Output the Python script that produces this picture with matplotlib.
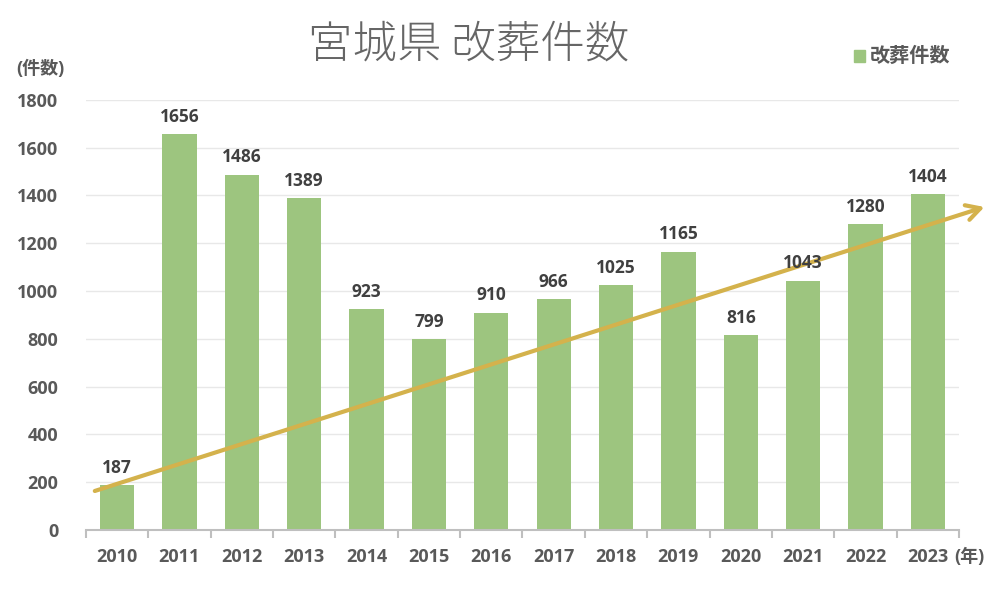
import numpy as np
import matplotlib.pyplot as plt

plt.rcParams['font.family'] = ['Open Sans', 'Noto Sans CJK JP', 'DejaVu Sans']

years = ['2010', '2011', '2012', '2013', '2014', '2015', '2016',
         '2017', '2018', '2019', '2020', '2021', '2022', '2023']
counts = [187, 1656, 1486, 1389, 923, 799, 910, 966, 1025, 1165, 816, 1043, 1280, 1404]
yticks = [0, 200, 400, 600, 800, 1000, 1200, 1400, 1600, 1800]

# trend arrow (start / end)
arrow_start = (-0.4, 160)
arrow_end = (13.95, 1355)

bar_color = '#9DC57F'
text_color = '#595959'
arrow_color = '#D4B24C'

fig = plt.figure(figsize=(9.99, 6.01), dpi=100)
ax = fig.add_axes([0.086, 0.118, 0.874, 0.716])

x = np.arange(len(years))
ax.bar(x, counts, width=0.55, color=bar_color, zorder=2)

for xi, v in zip(x, counts):
    ax.text(xi, v + 35, str(v), ha='center', va='bottom', fontsize=12.5,
            fontweight='bold', color='#404040', zorder=4)

ax.annotate('', xy=arrow_end, xytext=arrow_start,
            arrowprops=dict(arrowstyle='->,head_length=1.0,head_width=0.55',
                            color=arrow_color, lw=3),
            annotation_clip=False, zorder=3)

ax.set_xlim(-0.5, len(years) - 0.5)
ax.set_ylim(0, 1800)
ax.set_yticks(yticks)
ax.set_yticklabels([str(t) for t in yticks], fontsize=13, fontweight='bold', color=text_color)
ax.set_xticks(x)
ax.set_xticklabels(years, fontsize=13, fontweight='bold', color=text_color)
ax.tick_params(axis='x', length=0, pad=13)
ax.tick_params(axis='y', length=0, pad=20)

# category boundary ticks
ax.set_xticks(np.arange(-0.5, len(years)), minor=True)
ax.tick_params(axis='x', which='minor', length=6, width=1.5, color='#BFBFBF', direction='out')

ax.grid(axis='y', color='#E8E8E8', lw=1, zorder=0)
for s in ['top', 'right', 'left']:
    ax.spines[s].set_visible(False)
ax.spines['bottom'].set_color('#BFBFBF')
ax.spines['bottom'].set_linewidth(1.5)

fig.text(0.469, 0.925, '宮城県 改葬件数', ha='center', va='center', fontsize=32,
         fontweight='light', color='#666666', family=['Noto Sans CJK JP'])
fig.text(0.016, 0.885, '(件数)', ha='left', va='center', fontsize=13,
         fontweight='bold', color=text_color)
fig.text(0.955, 0.073, '(年)', ha='left', va='center', fontsize=13,
         fontweight='bold', color=text_color)

# legend
fig.patches.append(plt.Rectangle((0.855, 0.897), 0.011, 0.019, transform=fig.transFigure,
                                 color=bar_color, figure=fig))
fig.text(0.871, 0.907, '改葬件数', ha='left', va='center', fontsize=14.5,
         fontweight='bold', color=text_color, family=['Noto Sans CJK JP'])

fig.savefig('out.png', dpi=100)
